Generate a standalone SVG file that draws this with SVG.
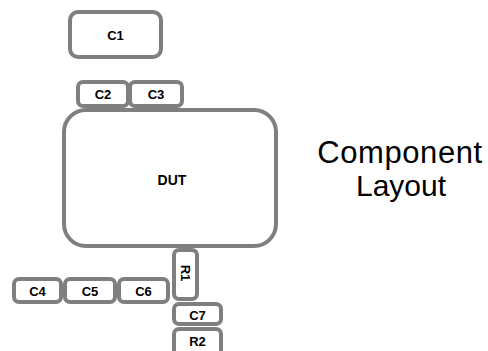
<svg xmlns="http://www.w3.org/2000/svg" width="488" height="351" viewBox="0 0 488 351">
<style>
.b{fill:#fff;stroke:#7f7f7f;stroke-width:4}
.l{font-family:"Liberation Sans",Arial,sans-serif;font-weight:bold;font-size:13px;fill:#000;text-anchor:middle;dominant-baseline:central}
.t{font-family:"Liberation Sans",Arial,sans-serif;font-size:30px;fill:#000;text-anchor:middle}
</style>
<rect width="488" height="351" fill="#fff"/>
<g id="connectors"></g>
<g id="C1"><rect class="b" x="70" y="12" width="91" height="45" rx="8"/><text class="l" x="115.5" y="35">C1</text></g>
<g id="C2"><rect class="b" x="78" y="82" width="50" height="24" rx="5"/><text class="l" x="103" y="94.5">C2</text></g>
<g id="C3"><rect class="b" x="130" y="82" width="52" height="24" rx="5"/><text class="l" x="156" y="94.5">C3</text></g>
<g id="DUT"><rect class="b" x="64" y="110" width="212" height="136" rx="22"/><text class="l" x="172" y="180" style="font-size:14px">DUT</text></g>
<g id="R1"><rect class="b" x="174" y="250" width="23" height="49" rx="5"/><text class="l" x="185.5" y="273" transform="rotate(90 185.5 273)">R1</text></g>
<g id="C4"><rect class="b" x="14" y="279" width="47" height="23" rx="5"/><text class="l" x="37.5" y="291">C4</text></g>
<g id="C5"><rect class="b" x="65" y="279" width="50" height="23" rx="5"/><text class="l" x="90" y="291">C5</text></g>
<g id="C6"><rect class="b" x="119" y="279" width="49" height="23" rx="5"/><text class="l" x="143.5" y="291">C6</text></g>
<g id="C7"><rect class="b" x="174" y="304" width="47" height="20" rx="5"/><text class="l" x="197.5" y="315">C7</text></g>
<g id="R2"><rect class="b" x="174" y="329" width="47" height="30" rx="5"/><text class="l" x="197.5" y="341.5">R2</text></g>
<g id="title"><text class="t" x="400" y="163" style="font-size:31px;letter-spacing:0.6px">Component</text><text class="t" x="401" y="196">Layout</text></g>
</svg>
